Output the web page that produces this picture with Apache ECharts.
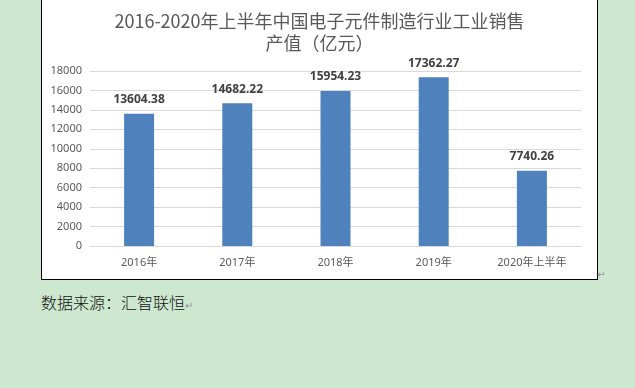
<!DOCTYPE html>
<html><head><meta charset="utf-8">
<script src="https://cdn.jsdelivr.net/npm/echarts@6/dist/echarts.min.js"></script>
<style>
html,body{margin:0;padding:0;width:635px;height:388px;background:#cde8cf;overflow:hidden;}
#box{position:absolute;left:41px;top:-1px;width:555px;height:279px;border:1px solid #000;background:#fff;}
#chart{width:555px;height:279px;}
#src{position:absolute;left:41px;top:291px;font-family:"Noto Sans CJK SC",sans-serif;font-weight:300;font-size:16px;color:#111;line-height:22px;}
.ret{color:#999;font-size:10px;}
#ret2{position:absolute;left:597px;top:269px;color:#999;font-size:10px;font-family:"DejaVu Sans";}
</style></head>
<body>
<div id="box"><div id="chart"></div></div>
<div id="ret2">↵</div>
<div id="src">数据来源：汇智联恒<span class="ret">↵</span></div>
<script>
var categories = ["2016年","2017年","2018年","2019年","2020年上半年"];
var values = [13604.38, 14682.22, 15954.23, 17362.27, 7740.26];
var titleText = "2016-2020年上半年中国电子元件制造行业工业销售\n产值（亿元）";
var chart = echarts.init(document.getElementById('chart'));
var ff = '"Noto Sans","Noto Sans CJK SC",sans-serif';
chart.setOption({
  animation:false,
  title:{text:titleText,left:'center',top:5,textStyle:{fontFamily:'"Noto Sans CJK SC",sans-serif',fontSize:18,fontWeight:'normal',color:'#595959',lineHeight:22}},
  grid:{left:48,right:16,top:71,bottom:33},
  xAxis:{type:'category',data:categories,axisLine:{lineStyle:{color:'#d9d9d9'}},axisTick:{show:false},
    axisLabel:{color:'#595959',fontSize:11,fontFamily:ff,margin:11}},
  yAxis:{type:'value',min:0,max:18000,interval:2000,axisLine:{show:false},axisTick:{show:false},
    splitLine:{lineStyle:{color:'#d9d9d9'}},axisLabel:{color:'#595959',fontSize:11,fontFamily:ff,margin:8,
      formatter:function(v){return String(v);}}},
  series:[{type:'bar',data:values,barWidth:30,itemStyle:{color:'#4f81bd'},
    label:{show:true,position:'top',distance:8,color:'#404040',fontSize:12,fontWeight:'bold',fontFamily:ff,
      formatter:function(p){return p.value.toFixed(2);}}}]
});
</script>
</body></html>
